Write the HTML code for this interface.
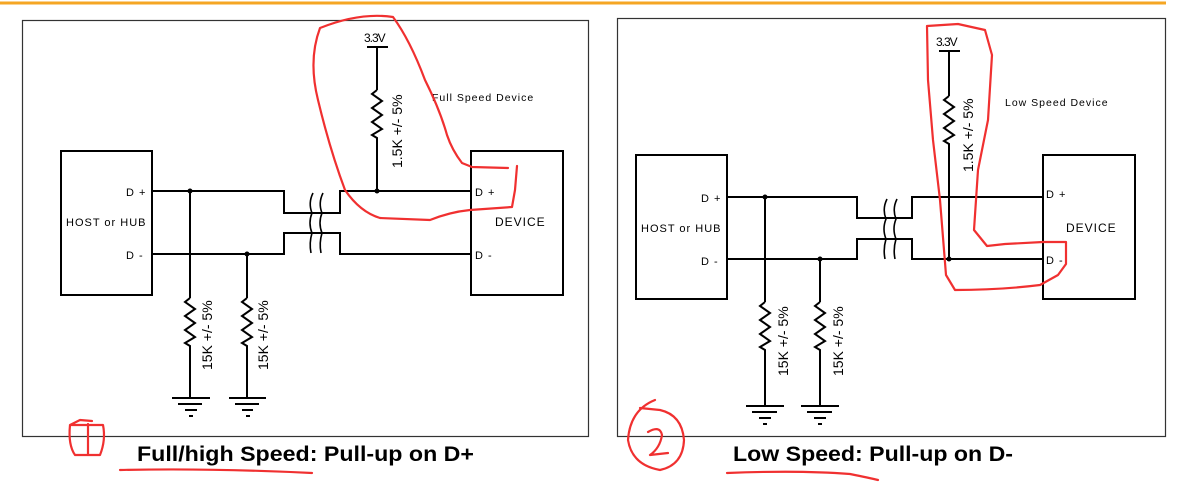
<!DOCTYPE html>
<html><head><style>
body{margin:0;background:#fff;}
svg{display:block;font-family:"Liberation Sans",sans-serif;}
</style></head><body>
<svg width="1190" height="488" viewBox="0 0 1190 488">
<line x1="0" y1="3" x2="1166" y2="3" stroke="#f5a623" stroke-width="3"/>
<g fill="none" stroke="#000">
<rect x="22.5" y="20.5" width="566" height="416" stroke="#333" stroke-width="1.2"/>
<rect x="617.5" y="18.5" width="548" height="418" stroke="#333" stroke-width="1.2"/>
</g>
<!-- LEFT -->
<g fill="none" stroke="#000" stroke-width="2">
<rect x="61" y="151" width="91" height="144"/>
<rect x="471" y="151" width="92" height="144"/>
<polyline points="152,191 284,191 284,213 340,213 340,191 471,191"/>
<polyline points="152,254 284,254 284,233 340,233 340,254 471,254"/>
<line x1="190" y1="191" x2="190" y2="298"/>
<polyline points="190,298 185,302 195,309 185,316 195,323 185,330 195,337 185,343 190,346 190,398"/>
<line x1="247" y1="254" x2="247" y2="298"/>
<polyline points="247,298 242,302 252,309 242,316 252,323 242,330 252,337 242,343 247,346 247,398"/>
<line x1="377" y1="47" x2="377" y2="90"/>
<polyline points="377,90 372,94 382,101 372,108 382,115 372,122 382,129 372,135 377,138 377,191"/>
<line x1="367" y1="47" x2="388" y2="47"/>
<line x1="172" y1="398" x2="210" y2="398"/><line x1="178" y1="404" x2="202" y2="404"/><line x1="185" y1="410" x2="197" y2="410"/><line x1="189" y1="416" x2="193" y2="416"/>
<line x1="229" y1="398" x2="266" y2="398"/><line x1="235" y1="404" x2="259" y2="404"/><line x1="242" y1="410" x2="253" y2="410"/><line x1="246" y1="416" x2="250" y2="416"/>
<path d="M313 193 q-5 10 -1 20 q-4 10 0 20 q-3 10 -1 20" stroke-width="1.6"/>
<path d="M323 193 q-5 10 -1 20 q-4 10 0 20 q-3 10 -1 20" stroke-width="1.6"/>
</g>
<g fill="#000"><circle cx="190" cy="191" r="2.5"/><circle cx="247" cy="254" r="2.5"/><circle cx="377" cy="191" r="2.5"/></g>
<g font-size="11" fill="#000" letter-spacing="1">
<text x="126" y="196">D +</text><text x="126" y="259">D -</text>
<text x="66" y="226">HOST or HUB</text>
<text x="475" y="196">D +</text><text x="475" y="259">D -</text>
<text x="495" y="226" font-size="12">DEVICE</text>
<text x="432" y="101" font-size="10.5">Full Speed Device</text>
</g>
<text x="364" y="42" font-size="12" letter-spacing="-1">3.3V</text>
<g font-size="14">
<text transform="translate(402,168) rotate(-90)">1.5K +/- 5%</text>
<text transform="translate(212,370) rotate(-90)">15K +/- 5%</text>
<text transform="translate(268,370) rotate(-90)">15K +/- 5%</text>
</g>
<text x="137" y="461" font-size="21" font-weight="bold" textLength="337" lengthAdjust="spacingAndGlyphs">Full/high Speed: Pull-up on D+</text>
<!-- RIGHT -->
<g fill="none" stroke="#000" stroke-width="2">
<rect x="636" y="155" width="91" height="144"/>
<rect x="1043" y="155" width="92" height="144"/>
<polyline points="727,197 857,197 857,218 912,218 912,197 1043,197"/>
<polyline points="727,259 857,259 857,239 912,239 912,259 1043,259"/>
<line x1="765" y1="197" x2="765" y2="302"/>
<polyline points="765,302 760,306 770,313 760,320 770,327 760,334 770,341 760,347 765,350 765,406"/>
<line x1="820" y1="259" x2="820" y2="302"/>
<polyline points="820,302 815,306 825,313 815,320 825,327 815,334 825,341 815,347 820,350 820,406"/>
<line x1="949" y1="51" x2="949" y2="96"/>
<polyline points="949,96 944,100 954,107 944,114 954,121 944,128 954,135 944,141 949,144 949,259"/>
<line x1="939" y1="51" x2="960" y2="51"/>
<line x1="746" y1="406" x2="784" y2="406"/><line x1="752" y1="412" x2="777" y2="412"/><line x1="759" y1="418" x2="771" y2="418"/><line x1="763" y1="424" x2="767" y2="424"/>
<line x1="801" y1="406" x2="839" y2="406"/><line x1="807" y1="412" x2="832" y2="412"/><line x1="814" y1="418" x2="826" y2="418"/><line x1="818" y1="424" x2="822" y2="424"/>
<path d="M887 199 q-5 10 -1 20 q-4 10 0 20 q-3 10 -1 20" stroke-width="1.6"/>
<path d="M897 199 q-5 10 -1 20 q-4 10 0 20 q-3 10 -1 20" stroke-width="1.6"/>
</g>
<g fill="#000"><circle cx="765" cy="197" r="2.5"/><circle cx="820" cy="259" r="2.5"/><circle cx="949" cy="259" r="2.5"/></g>
<g font-size="11" fill="#000" letter-spacing="1">
<text x="701" y="202">D +</text><text x="701" y="265">D -</text>
<text x="641" y="232">HOST or HUB</text>
<text x="1046" y="198">D +</text><text x="1046" y="264">D -</text>
<text x="1066" y="232" font-size="12">DEVICE</text>
<text x="1005" y="106" font-size="10.5">Low Speed Device</text>
</g>
<text x="936" y="46" font-size="12" letter-spacing="-1">3.3V</text>
<g font-size="14">
<text transform="translate(973,172) rotate(-90)">1.5K +/- 5%</text>
<text transform="translate(788,376) rotate(-90)">15K +/- 5%</text>
<text transform="translate(843,376) rotate(-90)">15K +/- 5%</text>
</g>
<text x="733" y="461" font-size="21" font-weight="bold" textLength="280" lengthAdjust="spacingAndGlyphs">Low Speed: Pull-up on D-</text>
<!-- red annotations -->
<g fill="none" stroke="#f03030" stroke-width="2.2" stroke-linecap="round" stroke-linejoin="round">
<path d="M508 168 L472 167 L462 163 Q452 150 447 135 Q440 110 425 80 Q410 40 393 17 Q360 12 320 28 Q308 60 318 100 Q330 150 345 190 Q360 212 380 218 L430 220 Q450 212 470 210 L512 207 L515 190 L517 166"/>
<path d="M1043 242 L1066 242 L1066 264 L1058 275 L1040 285 Q1000 290 955 290 L946 275 L940 200 L933 140 L928 80 L927 26 L958 24 L985 30 L992 55 L988 120 L978 170 L974 230 L987 246 L1005 244 Z"/>
<path d="M120 470 Q210 468 312 473"/>
<path d="M727 473 Q800 470 850 474 Q870 478 878 480"/>
<path d="M70 425 Q68 445 75 455 L100 455 Q106 440 103 425 Z M70 425 L80 420 L92 421 M88 424 L88 455"/>
<path d="M655 400 Q630 410 628 440 Q632 465 660 470 Q683 465 684 440 Q682 415 660 410 L640 408 M648 432 Q660 425 662 435 Q660 448 650 455 L668 453"/>
</g>
</svg>
</body></html>
